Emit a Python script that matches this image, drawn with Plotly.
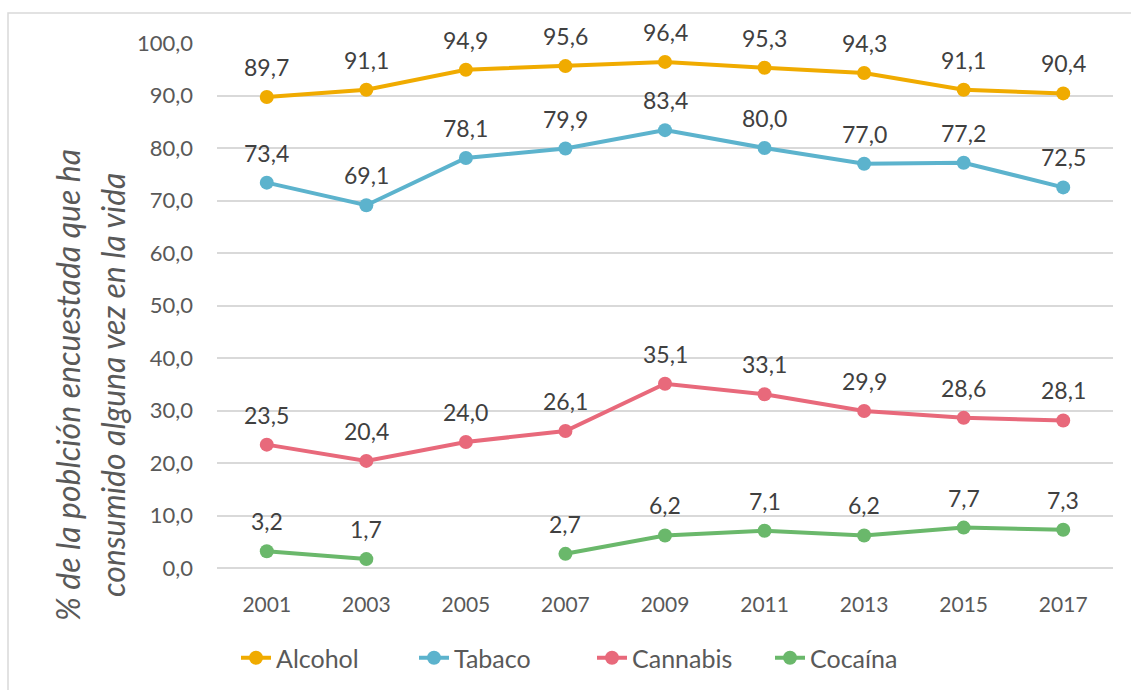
import plotly.graph_objects as go

years = [2001, 2003, 2005, 2007, 2009, 2011, 2013, 2015, 2017]
alcohol = [89.7, 91.1, 94.9, 95.6, 96.4, 95.3, 94.3, 91.1, 90.4]
tabaco = [73.4, 69.1, 78.1, 79.9, 83.4, 80.0, 77.0, 77.2, 72.5]
cannabis = [23.5, 20.4, 24.0, 26.1, 35.1, 33.1, 29.9, 28.6, 28.1]
cocaina = [3.2, 1.7, None, 2.7, 6.2, 7.1, 6.2, 7.7, 7.3]
y_ticks = [0, 10, 20, 30, 40, 50, 60, 70, 80, 90, 100]
title_lines = ["% de la poblción encuestada que ha", "consumido alguna vez en la vida"]

series = [
    ("Alcohol", alcohol, "#F0AB00"),
    ("Tabaco", tabaco, "#5CB3CD"),
    ("Cannabis", cannabis, "#E8697B"),
    ("Cocaína", cocaina, "#6AB86B"),
]

def fmt(v):
    return "" if v is None else f"{v:.1f}".replace(".", ",")

FONT = "Lato, 'Open Sans', sans-serif"
W, H = 1131, 690
ml, mr, mt, mb = 217, 18, 43, 122
pw, ph = W - ml - mr, H - mt - mb

def px_x(p):
    return (p - ml) / pw

def px_y(p):
    return (H - mb - p) / ph

fig = go.Figure()
annotations = []
for name, vals, color in series:
    fig.add_trace(go.Scatter(
        x=years, y=vals, name=name, mode="lines+markers",
        line=dict(color=color, width=4),
        marker=dict(color=color, size=14),
        connectgaps=False,
        cliponaxis=False,
        hoverinfo="skip",
    ))
    for yr, v in zip(years, vals):
        if v is None:
            continue
        annotations.append(dict(
            x=yr, y=v, xref="x", yref="y", text=fmt(v), showarrow=False,
            yshift=30, font=dict(size=23, color="#404040", family=FONT),
        ))

for line, cx in zip(title_lines, [67, 112]):
    annotations.append(dict(
        x=px_x(cx), y=px_y(385), xref="paper", yref="paper",
        text=f"<i>{line}</i>", textangle=-90, showarrow=False,
        xanchor="center", yanchor="middle",
        font=dict(size=32, color="#595959", family=FONT),
    ))

fig.update_layout(
    width=W, height=H,
    margin=dict(l=ml, r=mr, t=mt, b=mb, autoexpand=False),
    paper_bgcolor="white", plot_bgcolor="white",
    font=dict(family=FONT, color="#595959"),
    showlegend=True,
    legend=dict(orientation="h", x=px_x(592), xanchor="center",
                y=px_y(658), yanchor="middle", font=dict(size=25, color="#595959"),
                entrywidth=133, entrywidthmode="pixels", tracegroupgap=0),
    xaxis=dict(range=[years[0] - 1, years[-1] + 1], tickvals=years,
               showgrid=False, showline=False, ticks="", zeroline=False,
               automargin=False,
               tickfont=dict(size=21, color="#595959"), ticklabelstandoff=22),
    yaxis=dict(range=[0, 100], tickvals=y_ticks,
               ticktext=[fmt(float(v)) for v in y_ticks],
               automargin=False,
               showgrid=True, gridcolor="#D9D9D9", gridwidth=2,
               zeroline=True, zerolinecolor="#D9D9D9", zerolinewidth=2,
               showline=False, ticks="",
               tickfont=dict(size=22, color="#595959"), ticklabelstandoff=23),
    annotations=annotations,
    shapes=[dict(type="rect", xref="paper", yref="paper",
                 x0=px_x(8), x1=px_x(W + 20),
                 y0=px_y(H + 20), y1=px_y(13),
                 line=dict(color="#D9D9D9", width=1.5), fillcolor="rgba(0,0,0,0)")],
)
fig.write_html("out.html", config={"displayModeBar": False},
               post_script="document.body.style.margin='0px';document.body.style.overflow='hidden';")
